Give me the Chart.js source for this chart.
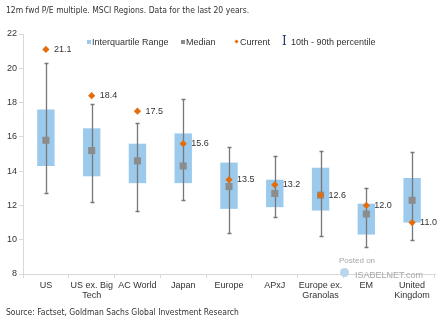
<!DOCTYPE html>
<html>
<head>
<meta charset="utf-8">
<script src="https://cdn.jsdelivr.net/npm/chart.js@4/dist/chart.umd.min.js"></script>
<style>
  html, body { margin: 0; padding: 0; background: #fff; }
  #wrap { position: relative; width: 444px; height: 321px; overflow: hidden; font-family: "Liberation Sans", Arial, sans-serif; color: #333; }
  #chart { position: absolute; left: 0; top: 0; }
  .note { position: absolute; left: 6px; font-family: "Liberation Sans Narrow", "DejaVu Sans Condensed", sans-serif; font-size: 8.5px; color: #333; white-space: nowrap; }
  .leg { position: absolute; top: 37px; font-size: 9px; line-height: 10px; white-space: nowrap; }
  .mark { position: absolute; }
  .wm { position: absolute; color: #a8a8a8; white-space: nowrap; }
</style>
</head>
<body>
<div id="wrap">
  <canvas id="chart" width="444" height="321"></canvas>
  <div class="note" style="top:5px">12m fwd P/E multiple. MSCI Regions. Data for the last 20 years.</div>
  <div class="note" style="top:307px">Source: Factset, Goldman Sachs Global Investment Research</div>

  <!-- legend -->
  <div class="mark" style="left:87px;top:40px;width:4px;height:4px;background:#9ccaec"></div>
  <div class="leg" style="left:92px">Interquartile Range</div>
  <div class="mark" style="left:181px;top:40px;width:4px;height:4px;background:#8c8c8c"></div>
  <div class="leg" style="left:186px">Median</div>
  <div class="mark" style="left:235px;top:40px;width:3px;height:3px;background:#e46c0a;transform:rotate(45deg)"></div>
  <div class="leg" style="left:240px">Current</div>
  <div class="leg" style="left:282px;top:34px;font-family:'DejaVu Serif',serif;font-size:12px;line-height:14px;color:#1f3864">I</div>
  <div class="leg" style="left:291px">10th - 90th percentile</div>

  <!-- watermark -->
  <div class="wm" style="left:339px;top:256px;font-size:8px">Posted on</div>
  <div class="mark" style="left:340px;top:268px;width:9px;height:9px;border-radius:50%;background:#b9d6ee"></div>
  <div class="wm" style="left:355px;top:270px;font-size:9px">ISABELNET.com</div>
</div>
<script>
const categories = ['US', ['US ex. Big', 'Tech'], 'AC World', 'Japan', 'Europe', 'APxJ', ['Europe ex.', 'Granolas'], 'EM', ['United', 'Kingdom']];
const p10 = [12.7, 12.2, 11.7, 12.3, 10.4, 11.3, 10.2, 9.6, 10.0];
const p25 = [14.3, 13.7, 13.3, 13.3, 11.8, 11.9, 11.7, 10.3, 11.0];
const median = [15.8, 15.2, 14.6, 14.3, 13.1, 12.7, 12.6, 11.5, 12.3];
const p75 = [17.6, 16.5, 15.6, 16.2, 14.5, 13.5, 14.2, 12.1, 13.6];
const p90 = [20.3, 17.9, 16.8, 18.2, 15.4, 14.9, 15.2, 13.0, 15.1];
const current = [21.1, 18.4, 17.5, 15.6, 13.5, 13.2, 12.6, 12.0, 11.0];
const yMin = 8, yMax = 22, yStep = 2;

// 10th-90th percentile lines, drawn right after the boxes so the points sit on top
const whiskers = {
    id: 'whiskers',
    afterDatasetDraw(chart, args) {
        if (args.index !== 0) return;
        const { ctx, scales: { x, y } } = chart;
        ctx.save();
        ctx.strokeStyle = '#777';
        ctx.lineWidth = 1.3;
        p10.forEach((lo, i) => {
            const cx = Math.round(x.getPixelForValue(i)) + 0.5;
            const top = Math.round(y.getPixelForValue(p90[i])) + 0.5;
            const bot = Math.round(y.getPixelForValue(lo)) + 0.5;
            ctx.beginPath();
            ctx.moveTo(cx, top); ctx.lineTo(cx, bot);
            ctx.moveTo(cx - 2, top); ctx.lineTo(cx + 2, top);
            ctx.moveTo(cx - 2, bot); ctx.lineTo(cx + 2, bot);
            ctx.stroke();
        });
        ctx.restore();
    }
};

// value labels beside the current markers
const currentLabels = {
    id: 'currentLabels',
    afterDatasetsDraw(chart) {
        const { ctx } = chart;
        const meta = chart.getDatasetMeta(2);
        ctx.save();
        ctx.font = '9px "Liberation Sans", Arial, sans-serif';
        ctx.fillStyle = '#333';
        ctx.textAlign = 'left';
        ctx.textBaseline = 'middle';
        meta.data.forEach((pt, i) => {
            ctx.fillText(current[i].toFixed(1), pt.x + 8, pt.y);
        });
        ctx.restore();
    }
};

new Chart(document.getElementById('chart'), {
    type: 'bar',
    data: {
        labels: categories,
        datasets: [
            {
                label: 'Interquartile Range',
                data: p25.map((lo, i) => [lo, p75[i]]),
                backgroundColor: '#9ccaec',
                barPercentage: 0.38,
                categoryPercentage: 1,
                order: 3
            },
            {
                type: 'line',
                label: 'Median',
                data: median,
                showLine: false,
                pointStyle: 'rect',
                pointRadius: 5,
                pointBackgroundColor: '#8c8c8c',
                pointBorderWidth: 0,
                order: 2
            },
            {
                type: 'line',
                label: 'Current',
                data: current,
                showLine: false,
                pointStyle: 'rectRot',
                pointRadius: 3.6,
                pointBackgroundColor: '#e46c0a',
                pointBorderWidth: 0,
                order: 1
            }
        ]
    },
    options: {
        responsive: false,
        animation: false,
        devicePixelRatio: 1,
        layout: { padding: { top: 34, right: 9, bottom: 17, left: 0 } },
        plugins: { legend: { display: false }, tooltip: { enabled: false } },
        scales: {
            x: {
                offset: true,
                afterFit: s => { s.height = 30; },
                grid: { drawOnChartArea: false, tickLength: 4, color: '#d9d9d9' },
                border: { color: '#d9d9d9' },
                ticks: { color: '#333', font: { size: 9, lineHeight: 1.1 }, maxRotation: 0, autoSkip: false, padding: 3 }
            },
            y: {
                min: yMin,
                max: yMax,
                afterFit: s => { s.width = 23; },
                grid: { drawOnChartArea: false, tickLength: 4, color: '#d9d9d9' },
                border: { color: '#d9d9d9' },
                ticks: { stepSize: yStep, color: '#333', font: { size: 9 }, padding: 2 }
            }
        }
    },
    plugins: [whiskers, currentLabels]
});
</script>
</body>
</html>
